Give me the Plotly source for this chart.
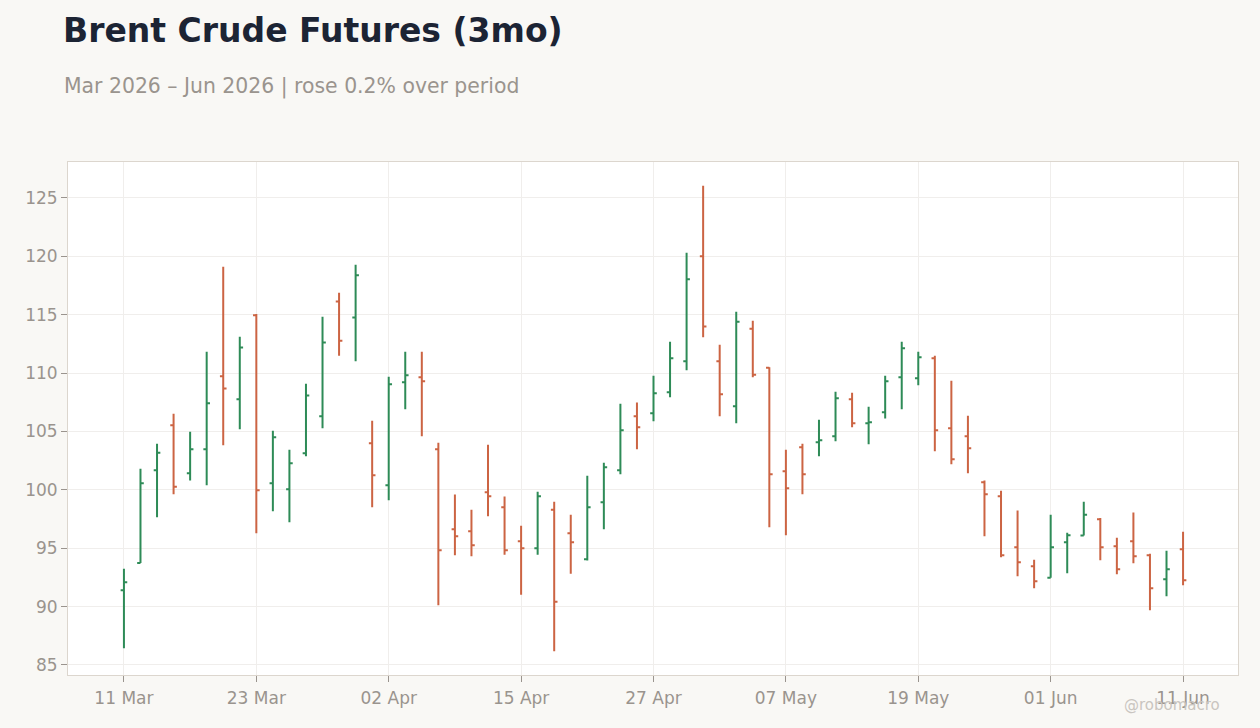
"""Brent crude futures, 3 month OHLC bar chart."""

import pandas as pd
import plotly.graph_objects as go

# trading days (weekdays, minus Good Friday and Memorial Day)
holidays = ["2026-04-03", "2026-05-25"]
days = [d for d in pd.bdate_range("2026-03-11", "2026-06-11") if d.strftime("%Y-%m-%d") not in holidays]
dates = [d.strftime("%Y-%m-%d") for d in days]

opens = [
    91.39, 93.74, 101.67, 105.53, 101.41, 103.47, 109.72, 107.75, 114.95, 100.56,
    100.04, 103.13, 106.30, 116.14, 114.77, 103.98, 100.39, 109.21, 109.64, 103.47,
    96.62, 96.45, 99.79, 98.50, 95.59, 94.99, 98.30, 96.28, 94.05, 98.93,
    101.67, 106.30, 106.55, 108.35, 111.01, 120.00, 111.01, 107.15, 113.80, 110.45,
    101.59, 103.64, 104.07, 104.58, 107.75, 105.70, 106.64, 109.64, 109.55, 111.26,
    105.27, 104.58, 100.64, 99.44, 95.08, 93.45, 92.48, 95.51, 96.08, 97.47,
    95.16, 95.59, 94.39, 92.34, 94.91,
]
highs = [
    93.25, 101.81, 103.95, 106.52, 104.98, 111.83, 119.11, 113.12, 115.06, 105.07,
    103.44, 109.09, 114.83, 116.89, 119.28, 105.92, 109.69, 111.83, 111.83, 104.04,
    99.59, 98.30, 103.87, 99.42, 96.93, 99.84, 98.99, 97.87, 101.21, 102.33,
    107.38, 107.47, 109.78, 112.69, 120.31, 126.05, 112.43, 115.26, 114.49, 110.49,
    103.44, 103.95, 106.01, 108.41, 108.32, 107.12, 109.78, 112.69, 111.83, 111.49,
    109.35, 106.35, 100.79, 99.93, 98.22, 94.02, 97.87, 96.33, 98.99, 97.59,
    95.90, 98.05, 94.53, 94.79, 96.42,
]
lows = [
    86.43, 93.74, 97.65, 99.62, 100.81, 100.39, 103.81, 105.18, 96.28, 98.16,
    97.22, 102.87, 105.27, 111.49, 111.01, 98.50, 99.10, 106.90, 104.58, 90.11,
    94.39, 94.31, 97.73, 94.45, 91.02, 94.45, 86.17, 92.82, 93.94, 96.62,
    101.33, 103.47, 105.87, 107.92, 110.24, 113.06, 106.30, 105.70, 109.64, 96.79,
    96.10, 99.62, 102.87, 104.16, 105.35, 103.90, 106.12, 106.90, 108.95, 103.30,
    102.19, 101.41, 96.02, 94.22, 92.59, 91.57, 92.48, 92.85, 96.08, 93.96,
    92.76, 93.71, 89.68, 90.88, 91.82,
]
closes = [
    92.08, 100.56, 103.18, 100.27, 103.47, 107.41, 108.67, 112.20, 99.96, 104.50,
    102.27, 108.09, 112.63, 112.78, 118.37, 101.24, 109.04, 109.81, 109.29, 94.82,
    96.02, 95.25, 99.44, 94.82, 94.99, 99.44, 90.42, 95.51, 98.50, 101.93,
    105.10, 105.35, 108.27, 111.26, 118.03, 114.00, 108.18, 114.40, 109.86, 101.33,
    100.13, 101.33, 104.24, 107.84, 105.70, 105.78, 109.29, 112.12, 111.35, 105.10,
    102.61, 103.56, 99.62, 94.39, 93.79, 92.17, 95.08, 96.10, 97.87, 95.08,
    93.19, 94.31, 91.57, 93.19, 92.25,
]

UP = "#2e8b57"
DOWN = "#cc6443"
MUTED = "#9a948e"

tick_idx = list(range(0, len(dates), 8))

fig = go.Figure(go.Ohlc(
    x=dates,
    open=opens,
    high=highs,
    low=lows,
    close=closes,
    increasing=dict(line=dict(color=UP, width=2)),
    decreasing=dict(line=dict(color=DOWN, width=2)),
    tickwidth=0.2,
    showlegend=False,
))

fig.update_layout(
    width=1260,
    height=728,
    paper_bgcolor="#f9f8f5",
    plot_bgcolor="#ffffff",
    font=dict(family="DejaVu Sans", color=MUTED, size=17),
    margin=dict(l=68, r=22, t=162, b=53),
    title=dict(
        text="<b>Brent Crude Futures (3mo)</b>",
        font=dict(size=33, color="#1c2434"),
        x=0.05, xanchor="left",
        y=1 - 30 / 728, yanchor="middle",
    ),
    xaxis=dict(
        type="category",
        range=[-3.38, 67.32],
        rangeslider=dict(visible=False),
        tickvals=[dates[i] for i in tick_idx],
        ticktext=[days[i].strftime("%d %b") for i in tick_idx],
        showgrid=True, gridcolor="#f0eeec",
        ticks="outside", ticklen=6, tickcolor=MUTED,
        ticklabelstandoff=2,
        showline=True, mirror=True, linecolor="#dcd6ce", linewidth=1,
    ),
    yaxis=dict(
        range=[84.14, 128.08],
        dtick=5,
        showgrid=True, gridcolor="#f0eeec",
        zeroline=False,
        ticks="outside", ticklen=6, tickcolor=MUTED,
        showline=True, mirror=True, linecolor="#dcd6ce", linewidth=1,
    ),
    annotations=[
        dict(
            text="Mar 2026 – Jun 2026 | rose 0.2% over period",
            xref="paper", yref="paper",
            x=(62 - 68) / 1170, y=1 + (162 - 86) / 513,
            xanchor="left", yanchor="middle",
            showarrow=False, font=dict(size=20.4, color=MUTED),
        ),
        dict(
            text="@robomacro",
            xref="paper", yref="paper",
            x=(1222 - 68) / 1170, y=-(705 - 675) / 513,
            xanchor="right", yanchor="middle",
            showarrow=False, font=dict(size=15, color="#c9c5c0"),
        ),
    ],
)

# no page margin, so the figure sits at the window's corner
fig.write_html(
    "out.html",
    config={"displayModeBar": False},
    post_script="document.body.style.margin='0';",
)
